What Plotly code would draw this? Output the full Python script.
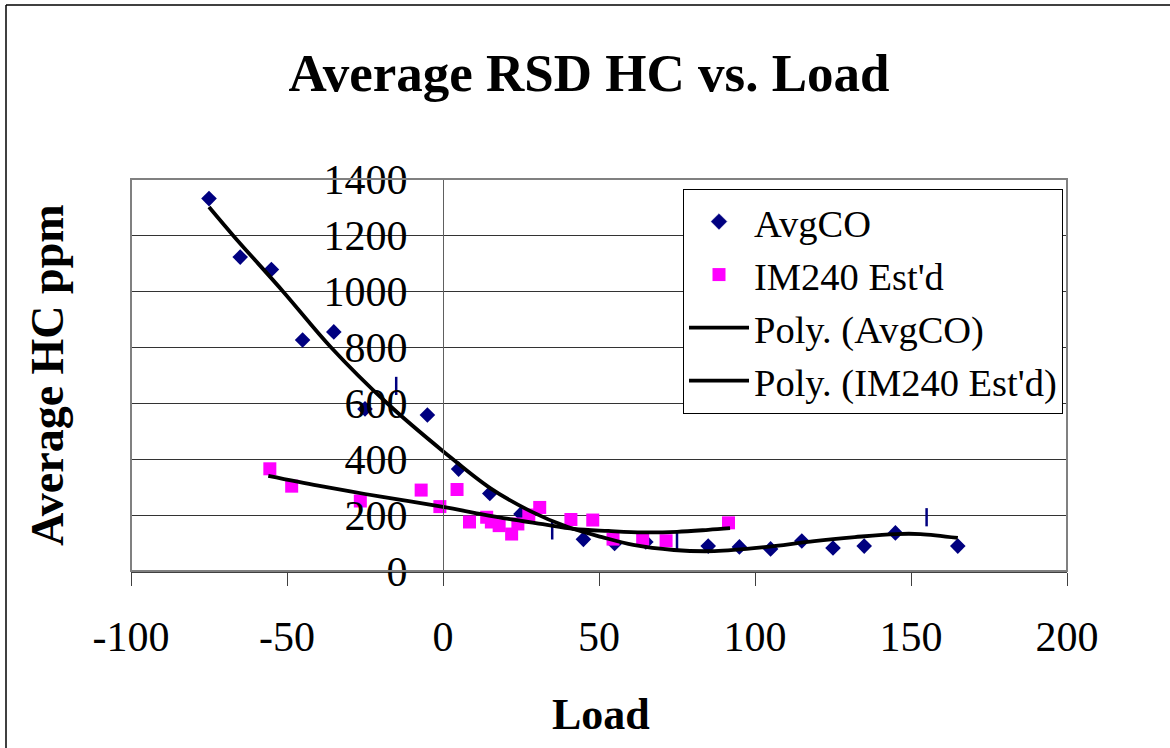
import plotly.graph_objects as go

# ---------------- data ----------------
avgco_load = [-75, -65, -55, -45, -35, -25, -15, -5, 5, 15, 25, 35, 45, 55, 65,
              75, 85, 95, 105, 115, 125, 135, 145, 155, 165]
avgco_hc = [1330, 1121, 1077, 825, 854, 579, 661, 557, 364, 277, 204, 145, 113, 98, 104,
            107, 89, 86, 79, 107, 82, 89, 136, 192, 89]

im240_load = [-55.5, -48.5, -26.5, -7, -1, 4.5, 8.5, 14, 15.5, 18, 22, 24, 27.5, 31,
              41, 48, 54.5, 64, 71.5, 91.5]
im240_hc = [365, 303, 250, 289, 230, 291, 175, 192, 175, 162, 132, 168, 200, 227,
            184, 182, 114, 111, 108, 172]

poly_avgco_load = [-75, -67, -51, -36, -18, 0, 15, 28, 40, 51, 61, 74, 87, 103, 119, 132, 145, 153, 165]
poly_avgco_hc = [1300, 1195, 995, 800, 600, 428, 297, 214, 157, 121, 93, 75, 71, 85, 107, 121, 132, 132, 118]

poly_im240_load = [-56, -40, -25, -10, 0, 10, 21, 32, 42, 53, 64, 75, 85, 92]
poly_im240_hc = [340, 305, 275, 248, 229, 208, 186, 167, 150, 143, 138, 140, 147, 153]

x_tick_vals = [-100, -50, 0, 50, 100, 150, 200]
x_tick_labels = ["-100", "-50", "0", "50", "100", "150", "200"]
y_tick_vals = [0, 200, 400, 600, 800, 1000, 1200, 1400]
y_tick_labels = ["0", "200", "400", "600", "800", "1000", "1200", "1400"]

# ---------------- style ----------------
FONT = "Liberation Serif"
NAVY = "#000080"
PINK = "#FF00FF"
DASH_LOADS = {-15, 35, 75, 155}  # points rendered as thin vertical strokes

sym = ["line-ns" if v in DASH_LOADS else "diamond" for v in avgco_load]
lw = [2.5 if v in DASH_LOADS else 0 for v in avgco_load]
msize = [13 if v in DASH_LOADS else 12 for v in avgco_load]

fig = go.Figure()
fig.add_trace(go.Scatter(
    x=avgco_load, y=avgco_hc, mode="markers", name="AvgCO", legendgroup="a",
    marker=dict(symbol=sym, size=msize, color=NAVY, opacity=1, line=dict(color=NAVY, width=lw)),
))
fig.add_trace(go.Scatter(
    x=im240_load, y=im240_hc, mode="markers", name="IM240 Est'd", legendgroup="b",
    marker=dict(symbol="square", size=13, color=PINK, opacity=1, line=dict(width=0)),
))
fig.add_trace(go.Scatter(
    x=poly_avgco_load, y=poly_avgco_hc, mode="lines", name="Poly. (AvgCO)", legendgroup="c",
    line=dict(color="black", width=3.8, shape="spline", smoothing=1.0),
))
fig.add_trace(go.Scatter(
    x=poly_im240_load, y=poly_im240_hc, mode="lines", name="Poly. (IM240 Est'd)", legendgroup="d",
    line=dict(color="black", width=3.8, shape="spline", smoothing=1.0),
))

W, H = 1170, 748
L, R, T, B = 131, 103, 179, 177
PW, PH = W - L - R, H - T - B


def px_x(p):
    return (p - L) / PW


def px_y(p):
    return (H - B - p) / PH


fig.update_layout(
    width=W, height=H,
    margin=dict(l=L, r=R, t=T, b=B, pad=0),
    paper_bgcolor="white", plot_bgcolor="white",
    font=dict(family=FONT, color="black"),
    title=dict(text="<b>Average RSD HC vs. Load</b>", x=589 / W, xanchor="center",
               y=1 - 72 / H, yanchor="middle", font=dict(size=53, family=FONT, color="black")),
    showlegend=True,
    legend=dict(x=px_x(683), y=px_y(189), xanchor="left", yanchor="top",
                bgcolor="white", bordercolor="black", borderwidth=1,
                font=dict(size=38.5, family=FONT, color="black"),
                traceorder="grouped", tracegroupgap=0, itemwidth=60),
    xaxis=dict(range=[-100, 200], tickmode="array", tickvals=x_tick_vals, ticktext=x_tick_labels,
               showgrid=False, zeroline=False, showline=True, linecolor="#404040", linewidth=2,
               ticks="outside", ticklen=13, tickcolor="#404040", tickwidth=1,
               tickfont=dict(size=42, family=FONT, color="black"), ticklabelstandoff=15),
    yaxis=dict(range=[0, 1400], tickmode="array", tickvals=y_tick_vals, ticktext=y_tick_labels,
               anchor="free", position=1 / 3,
               showgrid=True, gridcolor="#333333", gridwidth=1, zeroline=False,
               showline=True, linecolor="#606060", linewidth=1,
               ticks="outside", ticklen=13, tickcolor="#404040", tickwidth=1,
               tickfont=dict(size=42, family=FONT, color="black"), ticklabelstandoff=14),
    shapes=[
        dict(type="rect", xref="paper", yref="paper", x0=0, x1=1, y0=0, y1=1,
             line=dict(color="#808080", width=2), layer="above"),
        dict(type="line", xref="paper", yref="paper", x0=px_x(6), x1=px_x(1200), y0=px_y(5), y1=px_y(5),
             line=dict(color="black", width=1.5)),
        dict(type="line", xref="paper", yref="paper", x0=px_x(6), x1=px_x(6), y0=px_y(5), y1=px_y(800),
             line=dict(color="black", width=1.5)),
    ],
    annotations=[
        dict(text="<b>Average HC ppm</b>", xref="paper", yref="paper", x=px_x(47), y=px_y(375),
             textangle=-90, showarrow=False, xanchor="center", yanchor="middle",
             font=dict(size=46, family=FONT, color="black")),
        dict(text="<b>Load</b>", xref="paper", yref="paper", x=px_x(601), y=px_y(714),
             showarrow=False, xanchor="center", yanchor="middle",
             font=dict(size=44, family=FONT, color="black")),
    ],
)

fig.write_html("out.html", config={"displayModeBar": False},
               post_script="document.body.style.margin='0';document.body.style.padding='0';")
